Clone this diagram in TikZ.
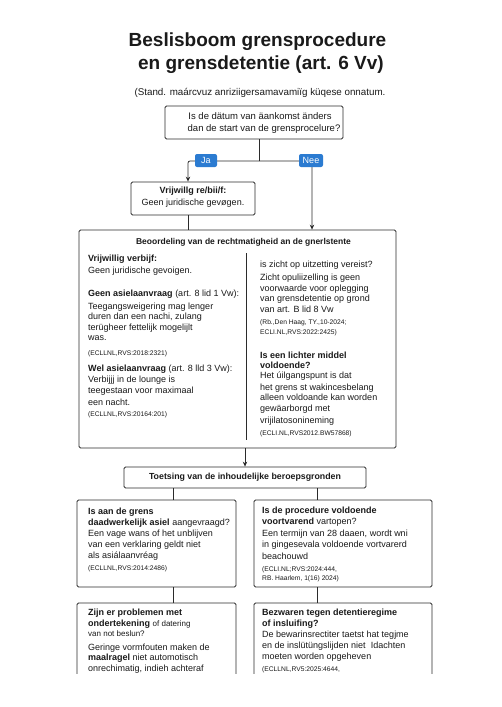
\documentclass[tikz,border=0pt]{standalone}
\usepackage{fontspec}
\setmainfont{Liberation Sans}
\usetikzlibrary{arrows.meta}
\definecolor{lc}{HTML}{2B2B2B}
\definecolor{tc}{HTML}{1A1A1A}
\definecolor{blu}{HTML}{2B7BD1}
\begin{document}
\begin{tikzpicture}[x=1pt,y=-1pt,
  box/.style={draw=lc,fill=white,line width=0.8pt,rounded corners=1.5pt,inner sep=0pt},
  lbl/.style={fill=blu,rounded corners=2pt,text=white,inner sep=0pt,minimum height=13pt,font=\fontsize{9}{10}\selectfont},
  tx/.style={anchor=base west,inner sep=0pt,text=tc,font=\fontsize{9}{11}\selectfont},
  tb/.style={tx,font=\bfseries\fontsize{9}{11}\selectfont},
  ct/.style={anchor=base west,inner sep=0pt,text=tc,font=\fontsize{6.7}{8}\selectfont},
  ln/.style={draw=lc,line width=0.8pt},
  arr/.style={ln,-{Stealth[length=5pt,width=4.5pt]}}]
\useasboundingbox (0,0) rectangle (502,707);
% title
\node[anchor=base,inner sep=0pt,text=tc,font=\bfseries\fontsize{19}{23}\selectfont] (t1) at (257.5,46) {Beslisboom grensprocedure};
\node[anchor=base,inner sep=0pt,text=tc,font=\bfseries\fontsize{19}{23}\selectfont] (t2) at (261,69) {en grensdetentie (art. 6 Vv)};
\node[anchor=base,inner sep=0pt,text=tc,font=\fontsize{9.8}{11}\selectfont] (t3) at (260,95) {(Stand. maárcvuz anriziigersamavamiïg küqese onnatum.};
% top question
\node[box,minimum width=178pt,minimum height=33pt] (q) at (254,122.5) {};
\node[anchor=base,inner sep=0pt,text=tc,font=\fontsize{9.5}{12}\selectfont] (q1) at (260,119.5) {Is de dätum van äankomst änders};
\node[anchor=base,inner sep=0pt,text=tc,font=\fontsize{9.5}{12}\selectfont] (q2) at (264,131.5) {dan de start van de grensprocelure?};
% vrijwillig box
\node[box,minimum width=124pt,minimum height=33pt] (v) at (193,198.5) {};
\node[anchor=base,inner sep=0pt,text=tc,font=\bfseries\fontsize{9}{11}\selectfont] (v1) at (193,193) {Vrijwillg re/bii/f:};
\node[anchor=base,inner sep=0pt,text=tc,font=\fontsize{9}{11}\selectfont] (v2) at (193,205) {Geen juridische gevøgen.};
% big box
\node[box,minimum width=317pt,minimum height=218pt] (B) at (237.5,339) {};
\node[anchor=base,inner sep=0pt,text=tc,font=\bfseries\fontsize{8.5}{10}\selectfont] (bt) at (243.5,244) {Beoordeling van de rechtmatigheid an de gnerlstente};
\coordinate (dv1) at (246,253);
\coordinate (dv2) at (246,440);
\draw[ln] (dv1) -- (dv2);
% connectors top
\coordinate (j) at (259,161);
\coordinate (cv) at (188,161);
\coordinate (cn) at (312,161);
\draw[ln] (q.south -| j) -- (j);
\draw[arr,rounded corners=2pt] (j) -- (cv) -- (v.north -| cv);
\draw[arr,rounded corners=2pt] (j) -- (cn) -- (B.north -| cn);
\draw[ln] (v.south -| cv) -- (B.north -| cv);
\node[lbl,minimum width=22pt] (ja) at (206,160.5) {Ja};
\node[lbl,minimum width=24pt] (nee) at (311,160.5) {Nee};
% left column
\node[tb] (a1) at (88,261) {Vrijwillig verbijf:};
\node[tx] (a2) at (88,273) {Geen juridische gevoigen.};
\node[tx] (a3) at (88,296) {\textbf{Geen asielaanvraag} (art. 8 lid 1 Vw):};
\node[tx] (a4) at (88,309) {Teegangsweigering mag lenger};
\node[tx] (a5) at (88,319.5) {duren dan een nachi, zulang};
\node[tx] (a6) at (88,330) {terügheer fettelijk mogelijlt};
\node[tx] (a7) at (88,340) {was.};
\node[ct] (a8) at (88,355) {(ECLLNL,RVS:2018:2321)};
\node[tx] (a9) at (88,371) {\textbf{Wel asielaanvraag} (art. 8 lld 3 Vw):};
\node[tx] (a10) at (88,382) {Verbijjj in de lounge is};
\node[tx] (a11) at (88,393.5) {teegestaan voor maximaal};
\node[tx] (a12) at (88,405) {een nacht.};
\node[ct] (a13) at (88,416) {(ECLLNL,RVS:20164:201)};
% right column
\node[tx] (b1) at (260,267) {is zicht op uitzetting vereist?};
\node[tx] (b2) at (260,280) {Zicht opuliizelling is geen};
\node[tx] (b3) at (260,291) {voorwaarde voor oplegging};
\node[tx] (b4) at (260,301.5) {van grensdetentie op grond};
\node[tx] (b5) at (260,312) {van art. B lid 8 Vw};
\node[ct] (b6) at (260,324.5) {(Rb.,Den Haag, TY.,10-2024;};
\node[ct] (b7) at (260,334) {ECLI.NL,RVS:2022:2425)};
\node[tb] (b8) at (260,358) {Is een lichter middel};
\node[tb] (b9) at (260,368.5) {voldoende?};
\node[tx] (b10) at (260,378.5) {Het úilgangspunt is dat};
\node[tx] (b11) at (260,390) {het grens st wakincesbelang};
\node[tx] (b12) at (260,400.5) {alleen voldoande kan worden};
\node[tx] (b13) at (260,411) {gewäarborgd met};
\node[tx] (b14) at (260,423) {vrijilatosonineming};
\node[ct] (b15) at (260,435.5) {(ECLI.NL,RVS2012.BW57868)};
% toetsing
\node[box,minimum width=242pt,minimum height=21pt,font=\bfseries\fontsize{8.8}{10}\selectfont,text=tc] (T) at (245,477.5) {Toetsing van de inhoudelijke beroepsgronden};
\coordinate (bs) at (245,448);
\draw[arr] (bs) -- (T.north -| bs);
% lower boxes
\coordinate (cl) at (173,0);
\coordinate (cr) at (317,0);
\node[box,minimum width=159pt,minimum height=87pt] (L1) at (156.5,543.5) {};
\node[box,minimum width=178pt,minimum height=87pt] (R1) at (343,543.5) {};
\draw[ln] (T.south -| cl) -- (L1.north -| cl);
\draw[ln] (T.south -| cr) -- (R1.north -| cr);
\node[tb] (c1) at (88,514) {Is aan de grens};
\node[tx] (c2) at (88,525) {\textbf{daadwerkelijk asiel} aangevraagd?};
\node[tx] (c3) at (88,536) {Een vage wans of het unblijven};
\node[tx] (c4) at (88,547) {van een verklaring geldt niet};
\node[tx] (c5) at (88,558) {als asiálaanvréag};
\node[ct] (c6) at (88,570) {(ECLLNL,RVS:2014:2486)};
\node[tb] (d1) at (262,513) {Is de procedure voldoende};
\node[tx] (d2) at (262,524) {\textbf{voortvarend} vartopen?};
\node[tx] (d3) at (262,536) {Een termijn van 28 daaen, wordt wni};
\node[tx] (d4) at (262,547) {in gingesevala voldoende vortvarerd};
\node[tx] (d5) at (262,559) {beachouwd};
\node[ct] (d6) at (262,571) {(ECLI.NL;RVS:2024:444,};
\node[ct] (d7) at (262,580) {RB. Haarlem, 1(16) 2024)};
\begin{scope}
\clip (0,0) rectangle (502,673);
\node[box,minimum width=159pt,minimum height=117pt] (L2) at (156.5,661.5) {};
\node[box,minimum width=178pt,minimum height=117pt] (R2) at (343,661.5) {};
\draw[ln] (L1.south -| cl) -- (L2.north -| cl);
\draw[ln] (R1.south -| cr) -- (R2.north -| cr);
\node[tb] (e1) at (88,615) {Zijn er problemen met};
\node[tx] (e2) at (88,626) {\textbf{ondertekening} {\fontsize{8}{10}\selectfont of datering}};
\node[tx,font=\fontsize{8}{10}\selectfont] (e3) at (88,636) {van not beslun?};
\node[tx] (e4) at (88,650) {Geringe vormfouten maken de};
\node[tx] (e5) at (88,660) {\textbf{maalragel} niet automotisch};
\node[tx] (e6) at (88,671) {onrechimatig, indieh achteraf};
\node[tb] (f1) at (262,615) {Bezwaren tegen detentieregime};
\node[tb] (f2) at (262,626) {of insluifing?};
\node[tx] (f3) at (262,637) {De bewarinsrectiter taetst hat tegjme};
\node[tx] (f4) at (262,648) {en de inslütüngslijden niet \ Idachten};
\node[tx] (f5) at (262,659) {moeten worden opgeheven};
\node[ct] (f6) at (262,671) {(ECLLNL,RV5:2025:4644,};
\end{scope}
\end{tikzpicture}
\end{document}
